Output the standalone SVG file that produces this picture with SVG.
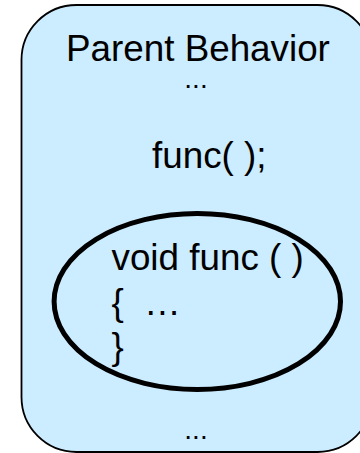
<svg xmlns="http://www.w3.org/2000/svg" width="360" height="453" viewBox="0 0 360 453">
<style>
text{font-family:"Liberation Sans",Arial,sans-serif;fill:#000}
.big{font-size:36.8px}
.dots{font-size:28px}
</style>
<rect width="360" height="453" fill="#fff"/>
<g id="parent-behavior">
<rect x="21.5" y="5" width="351" height="447" rx="55" ry="55" fill="#CCECFF" stroke="#000" stroke-width="1.8"/>
<text class="big" x="66" y="61">Parent Behavior</text>
<text class="dots" x="196" y="88" text-anchor="middle">...</text>
<text class="big" x="152" y="168">func( );</text>
<text class="dots" x="196" y="439" text-anchor="middle">...</text>
</g>
<g id="func-definition">
<ellipse cx="197.3" cy="301.5" rx="143.2" ry="88" fill="none" stroke="#000" stroke-width="5"/>
<text class="big" x="111.5" y="270">void func ( )</text>
<text class="big" x="111.5" y="315">{</text>
<text class="big" x="144" y="315">…</text>
<text class="big" x="111.5" y="359">}</text>
</g>
<g id="connectors"/>
</svg>
